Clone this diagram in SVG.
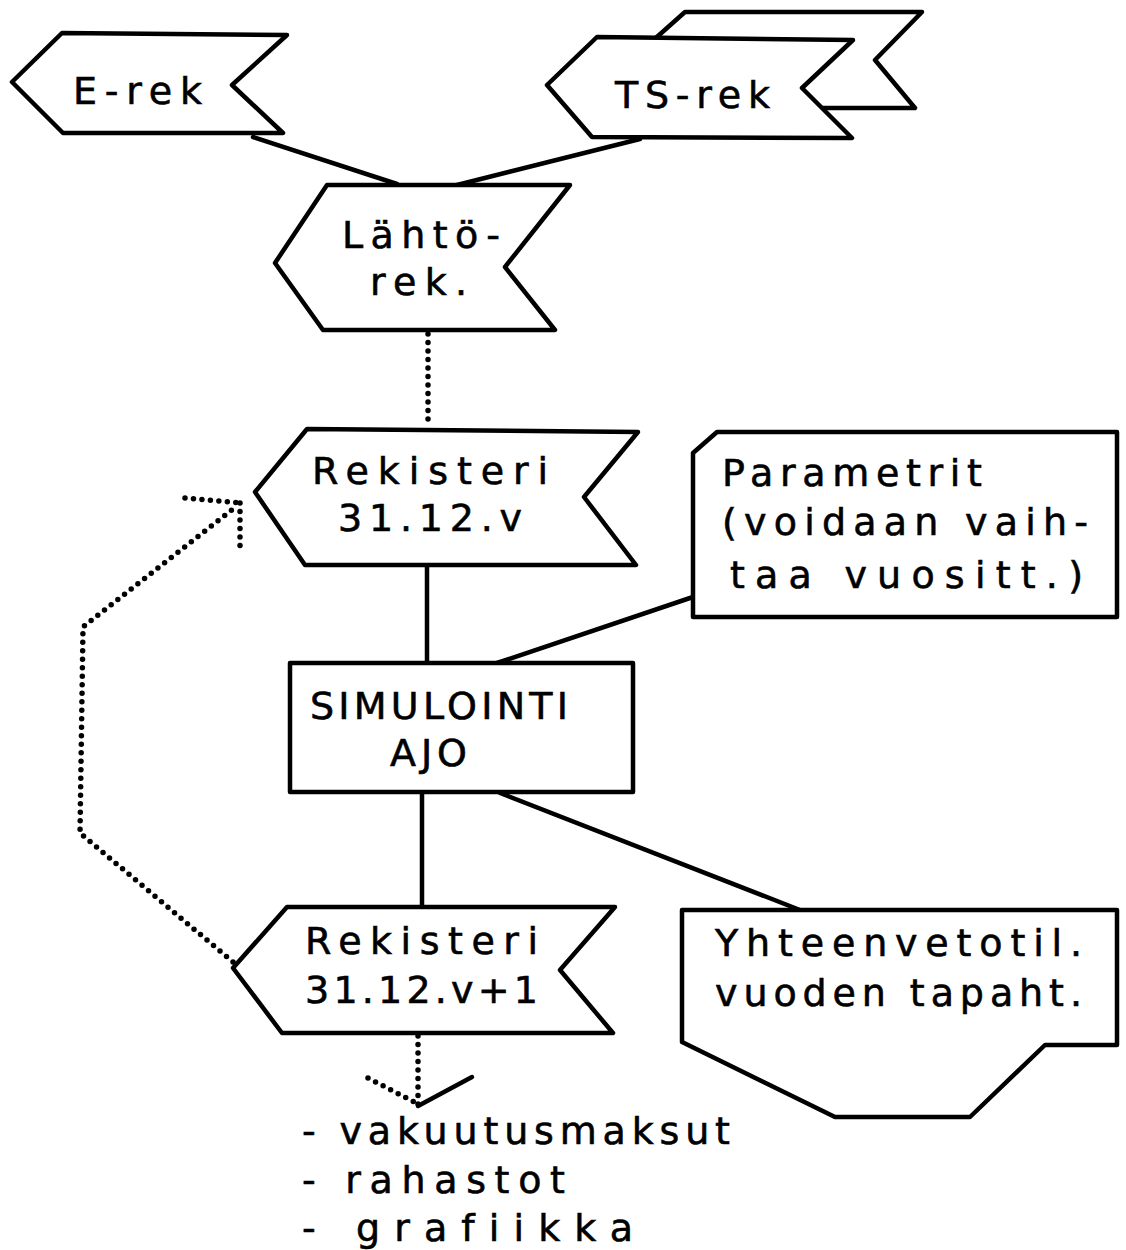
<svg xmlns="http://www.w3.org/2000/svg" width="1126" height="1250" viewBox="0 0 1126 1250">
<style>
.shape{fill:#fff;stroke:#000;stroke-width:4.5;stroke-linejoin:round;stroke-linecap:round}
.line{fill:none;stroke:#000;stroke-width:4.5;stroke-linecap:round;stroke-linejoin:round}
.dot{fill:none;stroke:#000;stroke-width:5.5;stroke-linecap:round;stroke-dasharray:0 8.5}
text{font-family:"DejaVu Sans","Liberation Sans",sans-serif;font-size:38px;fill:#000;stroke:#000;stroke-width:0.6;font-variant-ligatures:none}
</style>
<rect width="1126" height="1250" fill="#fff"/>
<g id="connectors">
<line class="line" x1="253" y1="137" x2="397" y2="184"/>
<line class="line" x1="640" y1="139" x2="457" y2="185"/>
<line class="dot" x1="428" y1="334" x2="428" y2="425"/>
<line class="line" x1="427" y1="567" x2="427" y2="663"/>
<line class="line" x1="497" y1="663" x2="693" y2="597"/>
<line class="line" x1="422" y1="792" x2="422" y2="907"/>
<line class="line" x1="500" y1="793" x2="800" y2="910"/>
<polyline class="dot" points="233,962 80,833 83,627 238,505"/>
<line class="dot" x1="185" y1="498" x2="240" y2="503"/>
<line class="dot" x1="240" y1="503" x2="240" y2="554"/>
<line class="dot" x1="418" y1="1036" x2="418" y2="1110"/>
<line class="dot" x1="368" y1="1078" x2="418" y2="1104"/>
<line class="line" x1="418" y1="1106" x2="472" y2="1077"/>
</g>
<g id="e-rek">
<polygon class="shape" points="12,82 62,33 287,35 232,85 283,133 63,133"/>
<text x="73" y="104" textLength="129" lengthAdjust="spacing">E-rek</text>
</g>
<g id="ts-rek">
<polygon class="shape" points="685,12 922,12 875,60 915,108 700,108 631,60"/>
<polygon class="shape" points="547,85 597,37 853,40 802,88 852,138 592,137"/>
<text x="615" y="108" textLength="155" lengthAdjust="spacing">TS-rek</text>
</g>
<g id="lahto-rek">
<polygon class="shape" points="275,263 327,185 570,185 505,267 555,330 323,330"/>
<text x="342" y="248" textLength="158" lengthAdjust="spacing">Lähtö-</text>
<text x="370" y="295" textLength="97" lengthAdjust="spacing">rek.</text>
</g>
<g id="rekisteri-v">
<polygon class="shape" points="255,492 307,429 638,432 584,497 636,565 305,565"/>
<text x="312" y="484" textLength="236" lengthAdjust="spacing">Rekisteri</text>
<text x="338" y="531" textLength="184" lengthAdjust="spacing">31.12.v</text>
</g>
<g id="parametrit">
<polygon class="shape" points="693,453 717,432 1117,432 1117,617 693,617"/>
<text x="722" y="486" textLength="260" lengthAdjust="spacing">Parametrit</text>
<text x="722" y="535" textLength="366" lengthAdjust="spacing">(voidaan vaih-</text>
<text x="730" y="588" textLength="353" lengthAdjust="spacing">taa vuositt.)</text>
</g>
<g id="simulointi">
<rect class="shape" x="290" y="663" width="343" height="129"/>
<text x="310" y="719" textLength="258" lengthAdjust="spacing">SIMULOINTI</text>
<text x="390" y="766" textLength="77" lengthAdjust="spacing">AJO</text>
</g>
<g id="rekisteri-v1">
<polygon class="shape" points="233,968 287,907 615,907 560,970 613,1033 282,1033"/>
<text x="305" y="954" textLength="233" lengthAdjust="spacing">Rekisteri</text>
<text x="305" y="1003" textLength="233" lengthAdjust="spacing">31.12.v+1</text>
</g>
<g id="yhteenveto">
<polygon class="shape" points="682,910 1117,910 1117,1045 1045,1045 970,1117 835,1117 682,1042"/>
<text x="715" y="956" textLength="367" lengthAdjust="spacing">Yhteenvetotil.</text>
<text x="715" y="1006" textLength="367" lengthAdjust="spacing">vuoden tapaht.</text>
</g>
<g id="outputs">
<text x="302" y="1144" textLength="428" lengthAdjust="spacing">- vakuutusmaksut</text>
<text x="302" y="1193" textLength="263" lengthAdjust="spacing">- rahastot</text>
<text x="302" y="1241" textLength="331" lengthAdjust="spacing">- grafiikka</text>
</g>
</svg>
